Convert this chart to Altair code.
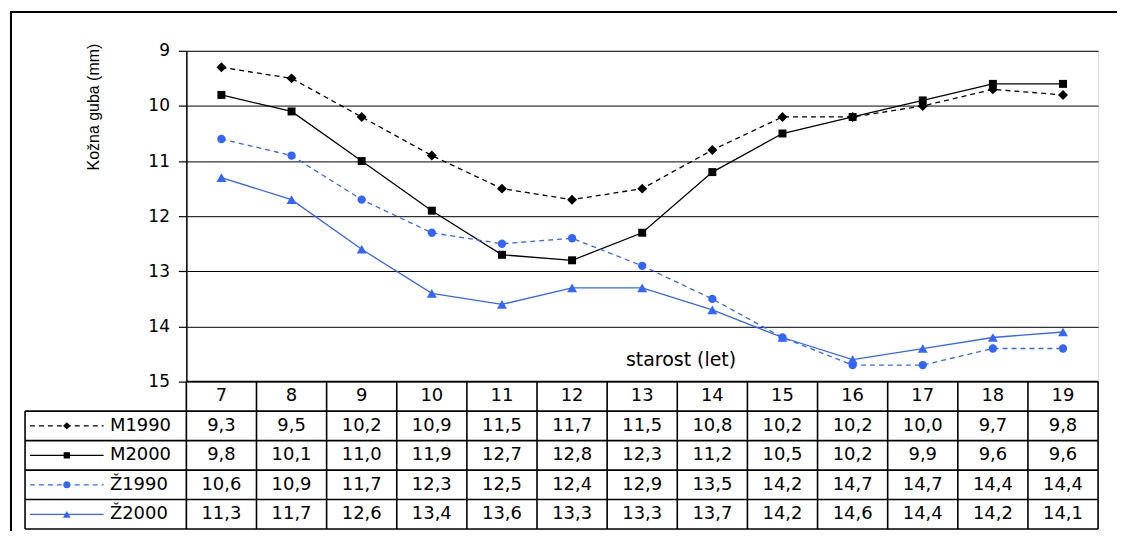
import altair as alt
import pandas as pd

# ---------------- data ----------------
ages = list(range(7, 20))
series_names = ["M1990", "M2000", "Ž1990", "Ž2000"]
m1990 = [9.3, 9.5, 10.2, 10.9, 11.5, 11.7, 11.5, 10.8, 10.2, 10.2, 10.0, 9.7, 9.8]
m2000 = [9.8, 10.1, 11.0, 11.9, 12.7, 12.8, 12.3, 11.2, 10.5, 10.2, 9.9, 9.6, 9.6]
z1990 = [10.6, 10.9, 11.7, 12.3, 12.5, 12.4, 12.9, 13.5, 14.2, 14.7, 14.7, 14.4, 14.4]
z2000 = [11.3, 11.7, 12.6, 13.4, 13.6, 13.3, 13.3, 13.7, 14.2, 14.6, 14.4, 14.2, 14.1]
y_ticks = [9, 10, 11, 12, 13, 14, 15]
y_title = "Kožna guba (mm)"
x_title = "starost (let)"

# ---------------- styles ----------------
BLACK = "#000000"
BLUE = "#3366ff"
styles = {
    "M1990": dict(color=BLACK, dash=[5, 4], shape="diamond", size=100, key_size=55),
    "M2000": dict(color=BLACK, dash=None, shape="square", size=64, key_size=40),
    "Ž1990": dict(color=BLUE, dash=[5, 4], shape="circle", size=70, key_size=50),
    "Ž2000": dict(color=BLUE, dash=None, shape="triangle-up", size=100, key_size=60),
}
W = 915
H_TOP = 332
H_TAB = 148
N = len(ages)
TABLE_LEFT = -2.30
KEY_X1, KEY_X2, KEY_MID = -2.23, -1.18, -1.705
LABEL_X = -1.09
FONT = "DejaVu Sans"

records = []
for r, (name, vals) in enumerate(zip(series_names, [m1990, m2000, z1990, z2000])):
    for i, (a, v) in enumerate(zip(ages, vals)):
        records.append({
            "series": name, "age": a, "col": i + 0.5, "row": r + 1.5,
            "value": v, "label": f"{v:.1f}".replace(".", ","),
        })
df = pd.DataFrame(records)

# ---------------- top chart ----------------
x_scale = alt.Scale(domain=[0, N], nice=False, zero=False)
x_top = alt.X("col:Q", scale=x_scale, axis=alt.Axis(
    labels=False, ticks=False, domain=False, grid=False, title=x_title,
    titleFont=FONT, titleFontSize=19, titleFontWeight="normal", titleColor="black",
    titleX=496, titleY=-22, titleAlign="center", titleBaseline="middle"))
y_top = alt.Y("value:Q", scale=alt.Scale(domain=[9, 15], reverse=True, nice=False, zero=False),
              axis=alt.Axis(values=y_ticks, grid=True, gridColor="black", gridWidth=1,
                            domainColor="black", domainWidth=1.5, tickColor="black",
                            tickSize=8, tickWidth=1.2, labelFont=FONT, labelFontSize=17,
                            labelColor="black", labelPadding=9, title=y_title,
                            titleFont="Liberation Sans", titleFontSize=16,
                            titleFontWeight="normal", titleColor="black", titleAngle=270,
                            titleX=-93, titleY=56, titleAlign="center", titleBaseline="middle"))

top_layers = []
for name in series_names:
    st = styles[name]
    line_kw = dict(color=st["color"], strokeWidth=1.3)
    if st["dash"]:
        line_kw["strokeDash"] = st["dash"]
    base = alt.Chart(df).transform_filter(alt.datum.series == name)
    top_layers.append(base.mark_line(**line_kw).encode(x=x_top, y=y_top))
    top_layers.append(base.mark_point(shape=st["shape"], filled=True, size=st["size"],
                                      color=st["color"], opacity=1).encode(x=x_top, y=y_top))

frame_src = alt.Data(values=[{"k": 0}])
frame_top = alt.Chart(frame_src).mark_rule(color="black", strokeWidth=2).encode(
    x=alt.value(-177), x2=alt.value(934), y=alt.value(-39))
frame_left = alt.Chart(frame_src).mark_rule(color="black", strokeWidth=2).encode(
    x=alt.value(-176), y=alt.value(-40), y2=alt.value(482))

top = alt.layer(*top_layers, frame_top, frame_left).properties(width=W, height=H_TOP)

# ---------------- table chart ----------------
def X(field):
    return alt.X(field, type="quantitative", scale=alt.Scale(domain=[0, N], nice=False, zero=False), axis=None)

def Y(field):
    return alt.Y(field, type="quantitative", scale=alt.Scale(domain=[0, 5], reverse=True, nice=False, zero=False), axis=None)

vlines = pd.DataFrame([{"x": c, "y": 0, "y2": 5} for c in range(N + 1)] +
                      [{"x": TABLE_LEFT, "y": 1, "y2": 5}])
hlines = pd.DataFrame([{"y": 0, "x": 0, "x2": N}] +
                      [{"y": r, "x": TABLE_LEFT, "x2": N} for r in range(1, 6)])

vrules = alt.Chart(vlines).mark_rule(color="black", strokeWidth=1.6).encode(
    x=X("x"), y=Y("y"), y2="y2:Q")
hrules = alt.Chart(hlines).mark_rule(color="black", strokeWidth=1.6).encode(
    x=X("x"), x2="x2:Q", y=Y("y"))

hdr = pd.DataFrame({"age": [str(a) for a in ages], "col": [i + 0.5 for i in range(N)], "row": [0.5] * N})
header_text = alt.Chart(hdr).mark_text(font=FONT, fontSize=18, color="black",
                                       align="center", baseline="middle").encode(
    x=X("col"), y=Y("row"), text="age:N")
value_text = alt.Chart(df).mark_text(font=FONT, fontSize=18, color="black",
                                     align="center", baseline="middle").encode(
    x=X("col"), y=Y("row"), text="label:N")

leg = pd.DataFrame({"series": series_names, "row": [r + 1.5 for r in range(4)],
                    "lx": [LABEL_X] * 4, "k1": [KEY_X1] * 4, "k2": [KEY_X2] * 4,
                    "km": [KEY_MID] * 4})
label_text = alt.Chart(leg).mark_text(font=FONT, fontSize=18, color="black",
                                      align="left", baseline="middle").encode(
    x=X("lx"), y=Y("row"), text="series:N")

key_layers = []
for name in series_names:
    st = styles[name]
    kw = dict(color=st["color"], strokeWidth=1.3)
    if st["dash"]:
        kw["strokeDash"] = st["dash"]
    b = alt.Chart(leg).transform_filter(alt.datum.series == name)
    key_layers.append(b.mark_rule(**kw).encode(x=X("k1"), x2="k2:Q", y=Y("row")))
    key_layers.append(b.mark_point(shape=st["shape"], filled=True, size=st["key_size"],
                                   color=st["color"], opacity=1).encode(x=X("km"), y=Y("row")))

table = alt.layer(vrules, hrules, header_text, value_text, label_text, *key_layers).properties(
    width=W, height=H_TAB)

chart = alt.vconcat(top, table, spacing=0, bounds="flush").properties(
    padding=0, background="white"
).configure_view(stroke="#8c8c8c", strokeWidth=1.5).configure(font=FONT)

chart.save("out.html", embed_options={"renderer": "svg", "actions": False})
